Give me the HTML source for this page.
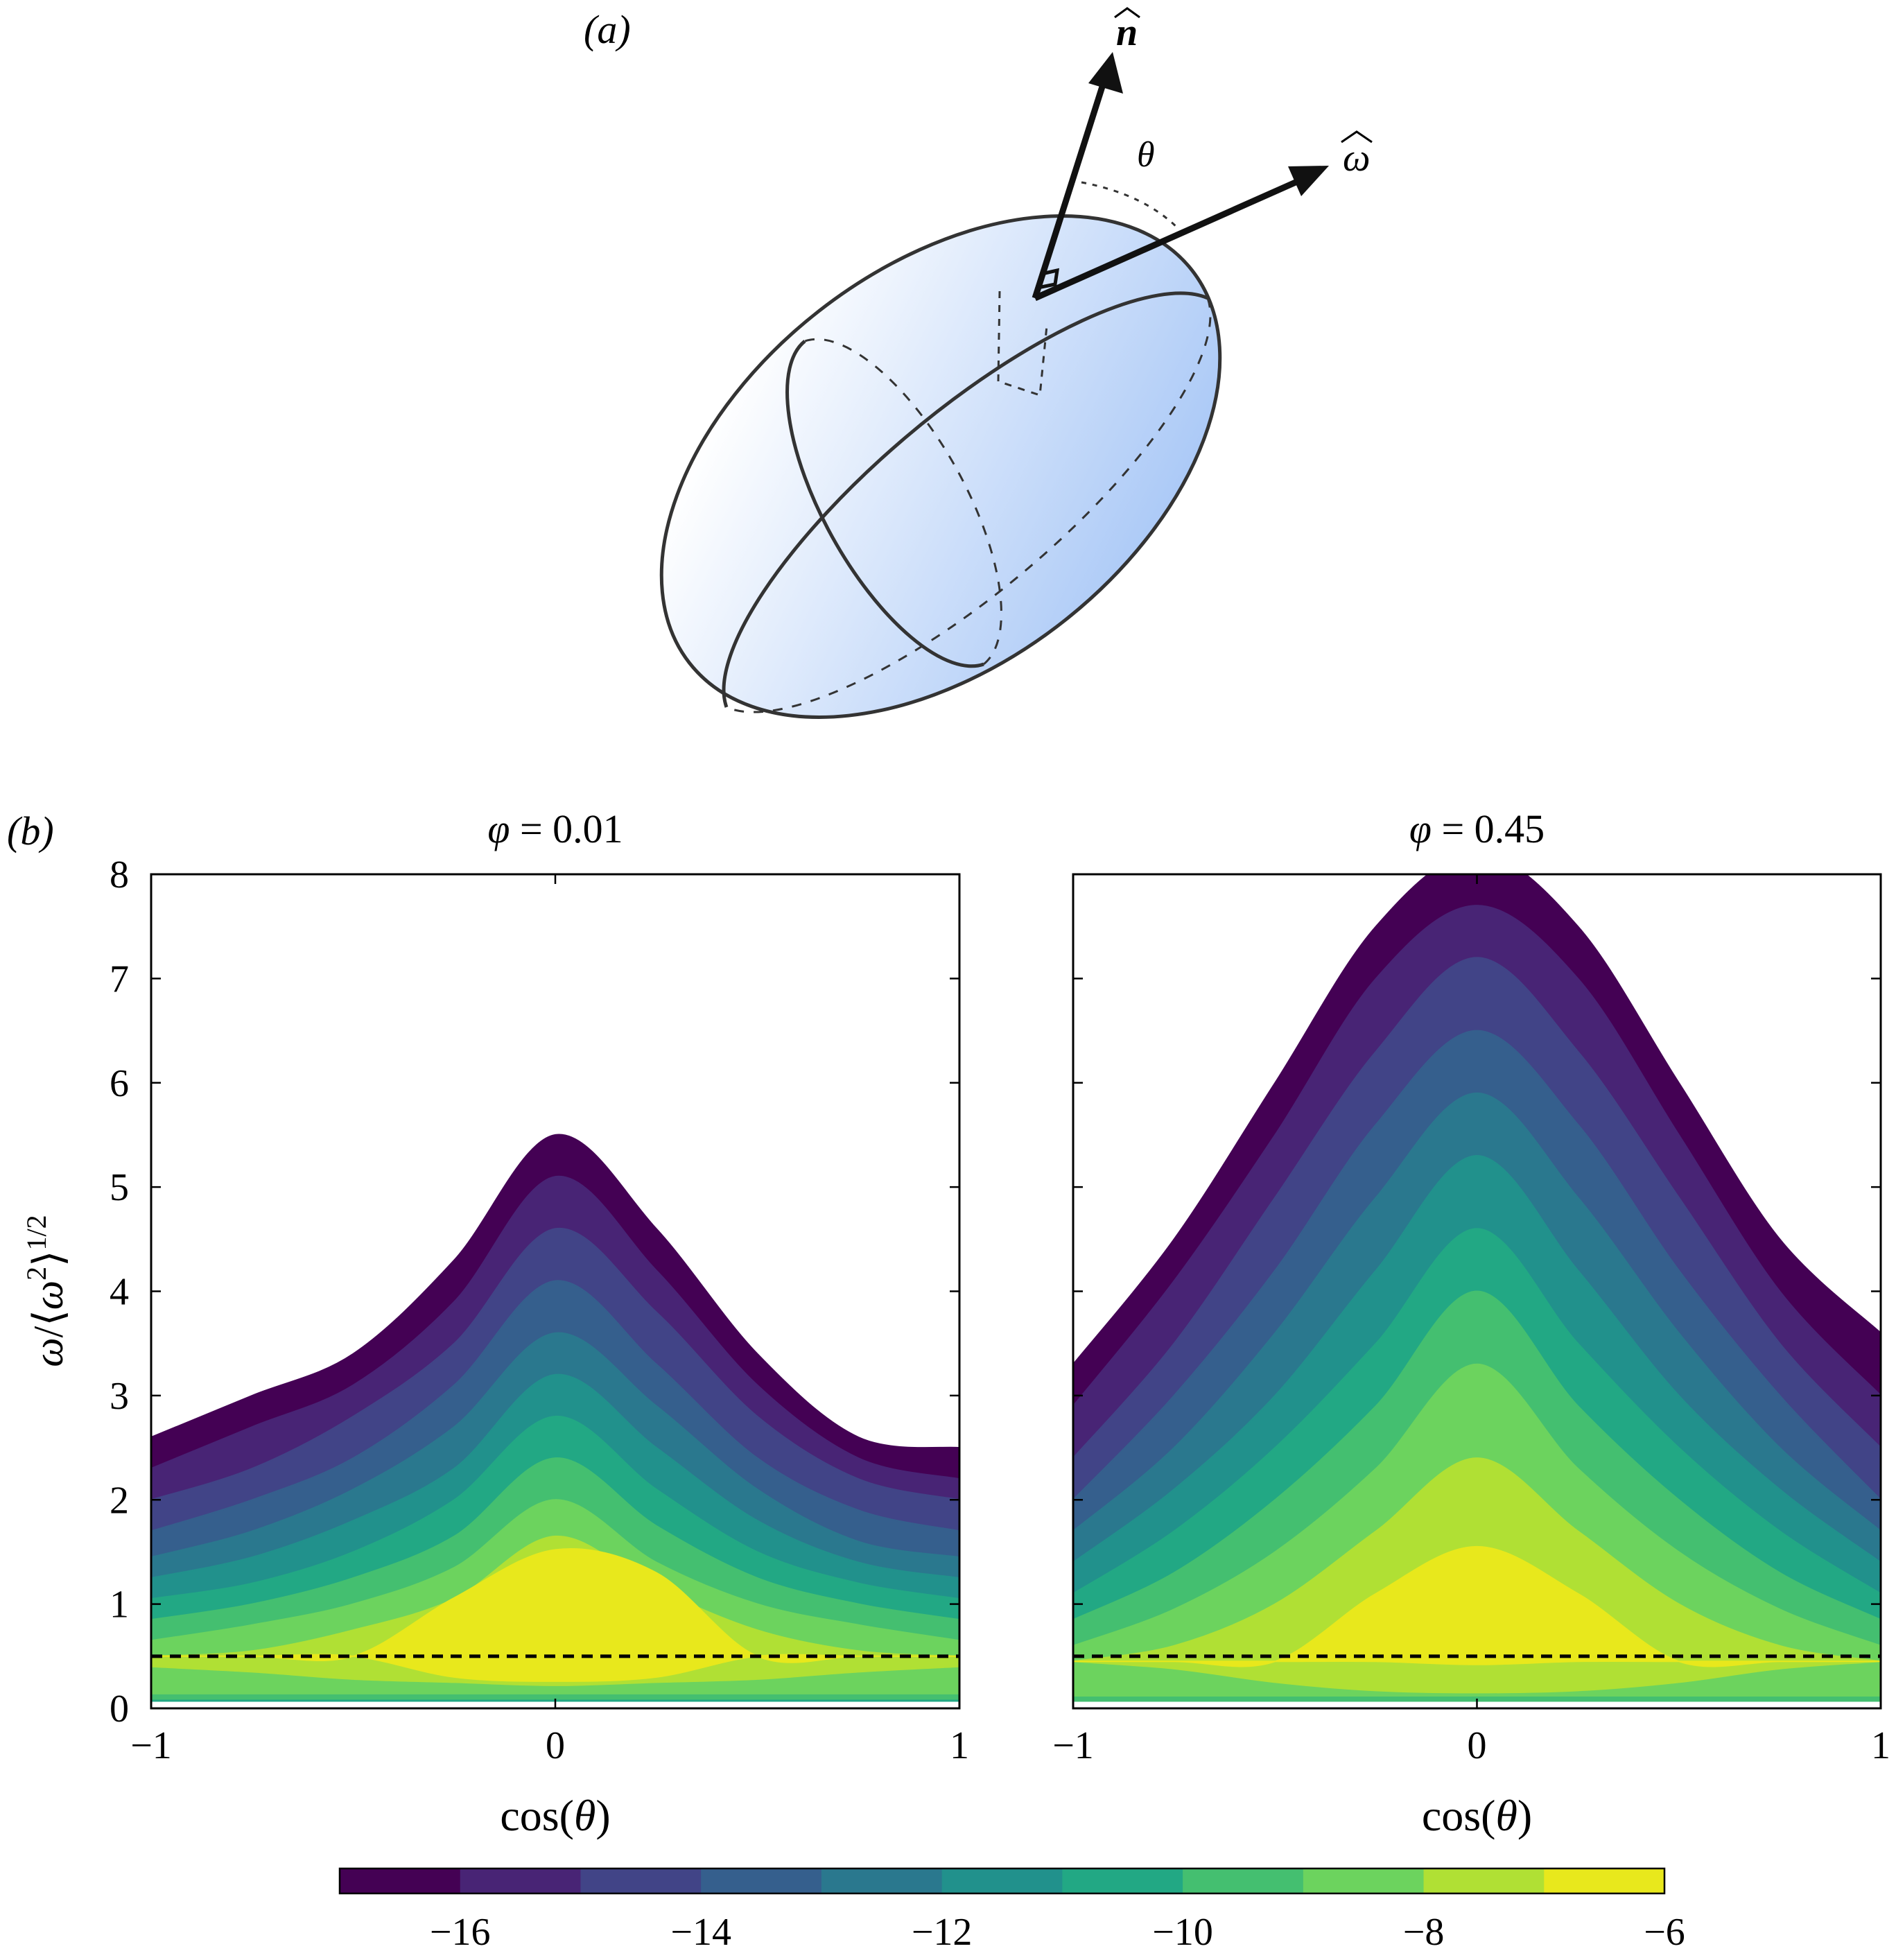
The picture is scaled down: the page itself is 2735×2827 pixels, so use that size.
<!DOCTYPE html>
<html><head><meta charset="utf-8"><style>
html,body{margin:0;padding:0;background:#fff}
svg{display:block;font-family:"Liberation Serif",serif}
</style></head><body>
<svg id="fig" width="2735" height="2827" viewBox="0 0 2735 2827" xmlns="http://www.w3.org/2000/svg">
<defs>
<linearGradient id="blue" x1="0.2" y1="0.1" x2="0.85" y2="0.95">
<stop offset="0" stop-color="#ffffff"/><stop offset="1" stop-color="#a6c6f6"/>
</linearGradient>
<clipPath id="clipL"><rect x="218" y="1261" width="1166" height="1203"/></clipPath>
<clipPath id="clipR"><rect x="1548" y="1261" width="1165" height="1203"/></clipPath>
</defs>
<g>
<text x="842" y="62" font-size="58" font-style="italic">(a)</text>
<ellipse cx="1357" cy="673" rx="460" ry="285" transform="rotate(-38 1357 673)" fill="url(#blue)" stroke="#333" stroke-width="5"/>
<path d="M1048,1020 A460,150 -40 0 1 1742,430" fill="none" stroke="#333" stroke-width="5"/>
<path d="M1742,430 A460,150 -40 0 1 1048,1020" fill="none" stroke="#333" stroke-width="3" stroke-dasharray="14 14"/>
<path d="M1161,492 A267,110 61 0 0 1419,958" fill="none" stroke="#333" stroke-width="5"/>
<path d="M1419,958 A267,110 61 0 0 1161,492" fill="none" stroke="#333" stroke-width="3" stroke-dasharray="14 14"/>
<path d="M1442,420 L1440,550 L1500,570 L1510,470" fill="none" stroke="#333" stroke-width="3" stroke-dasharray="10 10"/>
<path d="M1560,263 Q1650,280 1700,330" fill="none" stroke="#333" stroke-width="3" stroke-dasharray="7 9"/>
<line x1="1493" y1="430" x2="1590" y2="125" stroke="#111" stroke-width="9"/>
<polygon points="1605,75 1620,135 1570,120" fill="#111"/>
<line x1="1493" y1="430" x2="1880" y2="258" stroke="#111" stroke-width="9"/>
<polygon points="1917,239 1877,283 1858,240" fill="#111"/>
<path d="M1497,415 L1522,410 L1525,390 L1503,395" fill="none" stroke="#111" stroke-width="5"/>
<text x="1610" y="65" font-size="56" font-weight="bold" font-style="italic">n</text>
<path d="M1608,25 L1626,12 L1644,25" fill="none" stroke="#000" stroke-width="3"/>
<text x="1937" y="246" font-size="56" font-style="italic">ω</text>
<path d="M1935,205 L1957,190 L1979,205" fill="none" stroke="#000" stroke-width="3"/>
<text x="1640" y="240" font-size="52" font-style="italic">θ</text>
</g>
<text x="10" y="1218" font-size="58" font-style="italic">(b)</text>
<g id="plots"></g>
</svg>
<script>
const colors=["#440154","#482475","#414487","#355f8d","#2a788e","#21918c","#22a884","#44bf70","#6cd35e","#b0e034","#e8e81c"];
const levels=[-17,-16,-15,-14,-13,-12,-11,-10,-9,-8,-7];
const cosPts=[-1,-0.75,-0.5,-0.25,0,0.25,0.5,0.75,1];
const leftTops=[
[2.6,3.0,3.4,4.3,5.5,4.6,3.4,2.6,2.5],
[2.3,2.7,3.1,3.9,5.1,4.2,3.1,2.4,2.2],
[2.0,2.3,2.8,3.5,4.6,3.8,2.8,2.2,2.0],
[1.7,2.0,2.4,3.1,4.1,3.3,2.4,1.9,1.7],
[1.45,1.7,2.1,2.7,3.6,2.9,2.1,1.6,1.45],
[1.25,1.45,1.8,2.3,3.2,2.5,1.8,1.4,1.25],
[1.05,1.2,1.5,2.0,2.8,2.1,1.5,1.2,1.05],
[0.85,1.0,1.25,1.65,2.4,1.75,1.25,1.0,0.85],
[0.65,0.8,1.0,1.35,2.0,1.4,1.0,0.8,0.65],
[0.5,0.55,0.75,1.05,1.65,1.15,0.75,0.55,0.5],
[0.5,0.5,0.5,1.06,1.52,1.3,0.5,0.5,0.5]];
const leftBots=[
[0.07,0.07,0.07,0.07,0.07,0.07,0.07,0.07,0.07],
[0.07,0.07,0.07,0.07,0.07,0.07,0.07,0.07,0.07],
[0.07,0.07,0.07,0.07,0.07,0.07,0.07,0.07,0.07],
[0.07,0.07,0.07,0.07,0.07,0.07,0.07,0.07,0.07],
[0.07,0.07,0.07,0.07,0.07,0.07,0.07,0.07,0.07],
[0.07,0.07,0.07,0.07,0.07,0.07,0.07,0.07,0.07],
[0.07,0.07,0.07,0.07,0.07,0.07,0.07,0.07,0.07],
[0.09,0.09,0.09,0.09,0.09,0.09,0.09,0.09,0.09],
[0.14,0.14,0.14,0.14,0.14,0.14,0.14,0.14,0.14],
[0.4,0.35,0.28,0.25,0.22,0.25,0.28,0.35,0.4],
[0.5,0.5,0.5,0.3,0.26,0.3,0.5,0.5,0.5]];
const rightTops=[
[3.3,4.5,6.0,7.5,8.2,7.5,6.0,4.5,3.6],
[2.9,4.1,5.5,7.0,7.7,7.0,5.5,4.0,3.0],
[2.4,3.5,4.9,6.3,7.2,6.3,4.9,3.5,2.5],
[2.0,3.0,4.2,5.6,6.5,5.6,4.2,3.0,2.0],
[1.7,2.5,3.6,4.9,5.9,4.9,3.6,2.5,1.7],
[1.4,2.1,3.0,4.2,5.3,4.2,3.0,2.1,1.4],
[1.1,1.7,2.5,3.5,4.6,3.5,2.5,1.7,1.1],
[0.85,1.3,2.0,2.9,4.0,2.9,2.0,1.3,0.85],
[0.6,0.95,1.5,2.3,3.3,2.3,1.5,0.95,0.6],
[0.45,0.6,1.0,1.7,2.4,1.7,1.0,0.6,0.45],
[0.45,0.45,0.45,1.1,1.55,1.1,0.45,0.45,0.45]];
const rightBots=[
[0.07,0.07,0.07,0.07,0.07,0.07,0.07,0.07,0.07],
[0.07,0.07,0.07,0.07,0.07,0.07,0.07,0.07,0.07],
[0.07,0.07,0.07,0.07,0.07,0.07,0.07,0.07,0.07],
[0.07,0.07,0.07,0.07,0.07,0.07,0.07,0.07,0.07],
[0.07,0.07,0.07,0.07,0.07,0.07,0.07,0.07,0.07],
[0.07,0.07,0.07,0.07,0.07,0.07,0.07,0.07,0.07],
[0.07,0.07,0.07,0.07,0.07,0.07,0.07,0.07,0.07],
[0.07,0.07,0.07,0.07,0.07,0.07,0.07,0.07,0.07],
[0.12,0.12,0.12,0.12,0.12,0.12,0.12,0.12,0.12],
[0.45,0.38,0.25,0.17,0.15,0.17,0.25,0.38,0.45],
[0.45,0.45,0.45,0.45,0.42,0.45,0.45,0.45,0.45]];
const yTicks=[0,1,2,3,4,5,6,7,8];
const xTicks=[-1,0,1];
const xTickLabels=["\u22121","0","1"];
const cbTicks=[-16,-14,-12,-10,-8,-6];
const dashedLevel=0.5;
const titleValues=["0.01","0.45"];

const NS="http://www.w3.org/2000/svg";
const root=document.getElementById('plots');
function mk(tag,attrs,parent){const e=document.createElementNS(NS,tag);for(const k in attrs)e.setAttribute(k,attrs[k]);(parent||root).appendChild(e);return e;}
function spline(pts,start){
  let d=(start?'M':'L')+pts[0][0].toFixed(1)+','+pts[0][1].toFixed(1);
  for(let i=0;i<pts.length-1;i++){
    const p0=pts[Math.max(0,i-1)],p1=pts[i],p2=pts[i+1],p3=pts[Math.min(pts.length-1,i+2)];
    const c1=[p1[0]+(p2[0]-p0[0])/6,p1[1]+(p2[1]-p0[1])/6];
    const c2=[p2[0]-(p3[0]-p1[0])/6,p2[1]-(p3[1]-p1[1])/6];
    d+='C'+c1[0].toFixed(1)+','+c1[1].toFixed(1)+' '+c2[0].toFixed(1)+','+c2[1].toFixed(1)+' '+p2[0].toFixed(1)+','+p2[1].toFixed(1);
  }
  return d;
}
const panels=[{x0:218,x1:1384,tops:leftTops,bots:leftBots,clip:"clipL"},{x0:1548,x1:2713,tops:rightTops,bots:rightBots,clip:"clipR"}];
const Y0=2464,Y1=1261;
const sy=v=>Y0+(Y1-Y0)*v/8;
panels.forEach((p,pi)=>{
  const sx=c=>p.x0+(p.x1-p.x0)*(c+1)/2;
  const g=mk('g',{'clip-path':'url(#'+p.clip+')'});
  
  
  levels.forEach((lv,li)=>{
    const top=cosPts.map((c,i)=>[sx(c),sy(p.tops[li][i])]);
    const bot=cosPts.map((c,i)=>[sx(c),sy(p.bots[li][i])]).reverse();
    const d=spline(top,true)+spline(bot,false)+'Z';
    const path=mk('path',{d:d,fill:colors[li],'stroke':colors[li],'stroke-width':2,'stroke-linejoin':'round'},g);
    
    
  });
  const dl=mk('line',{x1:p.x0,x2:p.x1,y1:sy(dashedLevel),y2:sy(dashedLevel),stroke:'#000','stroke-width':5,'stroke-dasharray':'16 11'});
  
  
  const fr=mk('rect',{x:p.x0,y:Y1,width:p.x1-p.x0,height:Y0-Y1,fill:'none',stroke:'#000','stroke-width':3});
  
  
  yTicks.forEach(t=>{
    mk('line',{x1:p.x0,x2:p.x0+14,y1:sy(t),y2:sy(t),stroke:'#000','stroke-width':2.5});
    mk('line',{x1:p.x1,x2:p.x1-14,y1:sy(t),y2:sy(t),stroke:'#000','stroke-width':2.5});
    if(pi===0){const tx=mk('text',{x:p.x0-32,y:sy(t)+19,'font-size':56,'text-anchor':'end'});tx.textContent=t;
      
      }
  });
  xTicks.forEach((t,i)=>{
    mk('line',{x1:sx(t),x2:sx(t),y1:Y0,y2:Y0-14,stroke:'#000','stroke-width':2.5});
    mk('line',{x1:sx(t),x2:sx(t),y1:Y1,y2:Y1+14,stroke:'#000','stroke-width':2.5});
    const tx=mk('text',{x:sx(t),y:Y0+72,'font-size':56,'text-anchor':'middle'});tx.textContent=xTickLabels[i];
    
    
  });
  const xl=mk('text',{x:(p.x0+p.x1)/2,y:2640,'font-size':64,'text-anchor':'middle'});xl.innerHTML='cos(<tspan font-style="italic">θ</tspan>)';
  
  
  const tt=mk('text',{x:(p.x0+p.x1)/2,y:1215,'font-size':58,'text-anchor':'middle'});tt.innerHTML='<tspan font-style="italic">φ</tspan> = '+titleValues[pi];
  
  
});
const yl=mk('text',{x:0,y:0,'font-size':60,'text-anchor':'middle',transform:'translate(90,1862) rotate(-90)'});
yl.innerHTML='<tspan font-style="italic">ω</tspan>/⟨<tspan font-style="italic">ω</tspan><tspan font-size="40" dy="-24">2</tspan><tspan dy="24">⟩</tspan><tspan font-size="40" dy="-24">1/2</tspan>';


const cbX0=490,cbX1=2401,cbY=2695,cbH=36;
const cx=v=>cbX0+(cbX1-cbX0)*(v+17)/11;
const cb=mk('g',{});


levels.forEach((lv,li)=>{
  const r=mk('rect',{x:cx(lv),y:cbY,width:cx(lv+1)-cx(lv)+0.5,height:cbH,fill:colors[li]},cb);
  
  
});
mk('rect',{x:cbX0,y:cbY,width:cbX1-cbX0,height:cbH,fill:'none',stroke:'#000','stroke-width':2.5},cb);
cbTicks.forEach(t=>{
  const tx=mk('text',{x:cx(t),y:2805,'font-size':56,'text-anchor':'middle'},cb);tx.textContent='\u2212'+(-t);
  
  
});
</script>
</body></html>
